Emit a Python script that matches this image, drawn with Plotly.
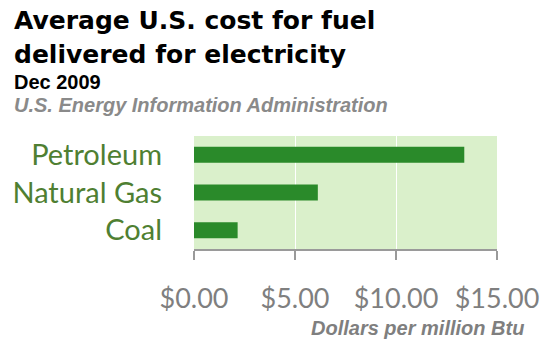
import plotly.graph_objects as go

categories = ["Petroleum", "Natural Gas", "Coal"]
values = [13.38, 6.13, 2.16]
tick_vals = [0, 5, 10, 15]
tick_text = ["$0.00", "$5.00", "$10.00", "$15.00"]

W, H = 551, 358
L, R, T, B = 193, 53, 136, 109
PW, PH = W - L - R, H - T - B

def px_x(x):
    return (x - L) / PW

def px_y(y):
    return (H - B - y) / PH

fig = go.Figure(go.Bar(
    x=values, y=categories, orientation="h",
    marker=dict(color="#2a8a2a", line=dict(width=0)),
    hoverinfo="skip",
))

fig.update_layout(
    width=W, height=H,
    margin=dict(l=L, r=R, t=T, b=B),
    paper_bgcolor="white",
    plot_bgcolor="#daf0cb",
    bargap=0.576,
    showlegend=False,
    xaxis=dict(
        range=[0, 15], tickvals=tick_vals, ticktext=tick_text,
        showgrid=True, gridcolor="white", gridwidth=1.2,
        zeroline=False, showline=True, linecolor="#9a9a9a", linewidth=1.5,
        ticks="outside", ticklen=9, tickcolor="#9a9a9a", tickwidth=1.5,
        tickfont=dict(family="Lato", size=27, color="#7f7f7f"),
        ticklabelstandoff=16,
        fixedrange=True,
    ),
    yaxis=dict(
        categoryorder="array", categoryarray=list(reversed(categories)),
        showgrid=False, zeroline=False, showline=False, ticks="",
        tickfont=dict(family="Lato", size=29, color="#4f7f32"),
        ticklabelstandoff=31,
        fixedrange=True,
    ),
)

ann = [
    dict(text="<b>Average U.S. cost for fuel</b>", x=px_x(10), y=px_y(20),
         font=dict(family="DejaVu Sans", size=25, color="black")),
    dict(text="<b>delivered for electricity</b>", x=px_x(10), y=px_y(54),
         font=dict(family="DejaVu Sans", size=25, color="black")),
    dict(text="<b>Dec 2009</b>", x=px_x(10), y=px_y(82),
         font=dict(family="Liberation Sans", size=20, color="black")),
    dict(text="<b><i>U.S. Energy Information Administration</i></b>", x=px_x(10), y=px_y(105),
         font=dict(family="Liberation Sans", size=20, color="#8a8a8a")),
]
for a in ann:
    fig.add_annotation(xref="paper", yref="paper", xanchor="left", yanchor="middle",
                       showarrow=False, **a)

fig.add_annotation(xref="paper", yref="paper", x=px_x(527), y=px_y(328),
                   xanchor="right", yanchor="middle", showarrow=False,
                   text="<b><i>Dollars per million Btu</i></b>",
                   font=dict(family="Liberation Sans", size=20, color="#7f7f7f"))

fig.write_html("out.html", config={"displayModeBar": False},
               post_script="document.body.style.margin='0';")
